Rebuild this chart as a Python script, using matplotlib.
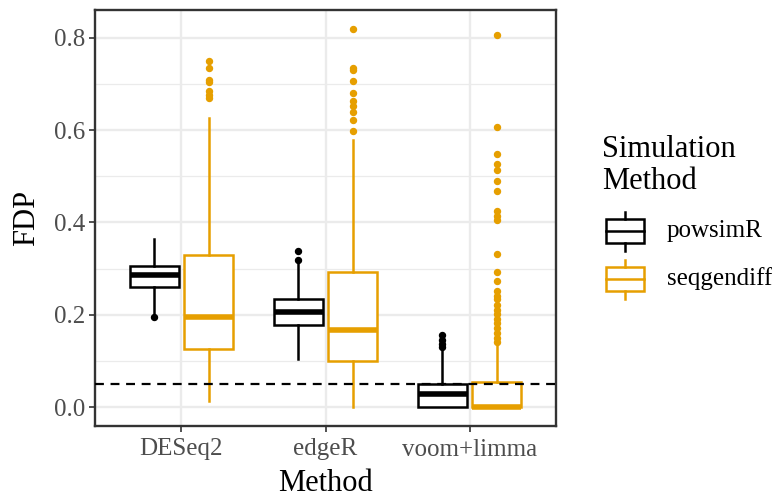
import numpy as np
import matplotlib
matplotlib.use('Agg')
import matplotlib.pyplot as plt
from matplotlib.patches import Rectangle

plt.rcParams['font.family'] = ['Liberation Serif', 'DejaVu Serif']

methods = ['DESeq2', 'edgeR', 'voom+limma']
sims = ['powsimR', 'seqgendiff']
colours = ['#000000', '#E69F00']

# box statistics: whislo, q1, med, q3, whishi
pow_stats = [
    [0.200, 0.261, 0.285, 0.305, 0.364],
    [0.105, 0.177, 0.205, 0.234, 0.313],
    [0.000, 0.000, 0.028, 0.050, 0.127],
]
seq_stats = [
    [0.014, 0.126, 0.194, 0.330, 0.627],
    [0.000, 0.099, 0.166, 0.293, 0.579],
    [0.000, 0.000, 0.000, 0.054, 0.137],
]
pow_out = [
    [0.196],
    [0.339, 0.319],
    [0.155, 0.145, 0.136, 0.130],
]
seq_out = [
    [0.749, 0.734, 0.709, 0.705, 0.684, 0.676, 0.669],
    [0.819, 0.734, 0.729, 0.707, 0.681, 0.663, 0.652, 0.638, 0.621, 0.597],
    [0.806, 0.606, 0.548, 0.526, 0.514, 0.490, 0.469, 0.424, 0.413, 0.406,
     0.332, 0.293, 0.272, 0.251, 0.241, 0.233, 0.222, 0.211, 0.202, 0.191,
     0.181, 0.171, 0.161, 0.150, 0.140],
]
fdr_level = 0.05


def make_stats(stats, outs):
    res = []
    for s, o in zip(stats, outs):
        res.append(dict(whislo=s[0], q1=s[1], med=s[2], q3=s[3], whishi=s[4],
                        fliers=o))
    return res


fig = plt.figure(figsize=(7.72, 4.99), dpi=100)
ax = fig.add_axes([95/772, 73/499, 461/772, 416.5/499])

x = np.arange(1, len(methods) + 1)
offset = 0.188
bw = 0.34
lw = 1.8
for i, (stats, outs) in enumerate([(pow_stats, pow_out), (seq_stats, seq_out)]):
    col = colours[i]
    pos = x + (-offset if i == 0 else offset)
    ax.bxp(make_stats(stats, outs), positions=pos, widths=bw, showcaps=False,
           patch_artist=True, manage_ticks=False,
           boxprops=dict(facecolor='white', edgecolor=col, linewidth=lw),
           whiskerprops=dict(color=col, linewidth=lw),
           medianprops=dict(color=col, linewidth=4, solid_capstyle='butt'),
           flierprops=dict(marker='o', markerfacecolor=col, markeredgecolor=col,
                           markersize=4.3, linestyle='none'),
           zorder=3)

ax.axhline(fdr_level, color='black', linestyle=(0, (4, 3)), linewidth=1.6, zorder=4)

ax.set_xlim(0.4, 3.6)
ax.set_ylim(-0.041, 0.861)
ax.set_xticks(x)
ax.set_xticklabels(methods)
ax.set_yticks([0.0, 0.2, 0.4, 0.6, 0.8])
ax.set_yticklabels(['0.0', '0.2', '0.4', '0.6', '0.8'])
ax.set_yticks([0.1, 0.3, 0.5, 0.7], minor=True)
ax.grid(True, which='major', color='#EBEBEB', linewidth=1.7, zorder=0)
ax.grid(True, which='minor', axis='y', color='#EBEBEB', linewidth=0.9, zorder=0)
ax.set_axisbelow(True)
ax.tick_params(axis='both', which='major', length=4.5, width=1.2, color='#333333',
               labelcolor='#4D4D4D', labelsize=18, pad=2.5)
ax.tick_params(axis='x', which='major', pad=4.5)
ax.tick_params(axis='y', which='minor', length=0)
for sp in ax.spines.values():
    sp.set_color('#333333')
    sp.set_linewidth(1.7)
ax.set_xlabel('Method', fontsize=22, labelpad=6)
ax.set_ylabel('FDP', fontsize=22, labelpad=9)

# legend drawn in pixel space
lg = fig.add_axes([0, 0, 1, 1])
lg.set_xlim(0, 772)
lg.set_ylim(499, 0)
lg.axis('off')
lg.text(602, 157, 'Simulation', fontsize=22, va='baseline', ha='left')
lg.text(602, 189, 'Method', fontsize=22, va='baseline', ha='left')
key_y = [231, 278.7]
for col, lab, ky in zip(colours, sims, key_y):
    lg.add_patch(Rectangle((606, ky - 12), 38, 24, facecolor='white',
                           edgecolor=col, linewidth=lw))
    lg.plot([606, 644], [ky, ky], color=col, linewidth=lw)
    lg.plot([625, 625], [ky - 19, ky - 12], color=col, linewidth=lw)
    lg.plot([625, 625], [ky + 12, ky + 20], color=col, linewidth=lw)
    lg.text(667, ky, lab, fontsize=18, va='center', ha='left')

fig.savefig('out.png', dpi=100)
